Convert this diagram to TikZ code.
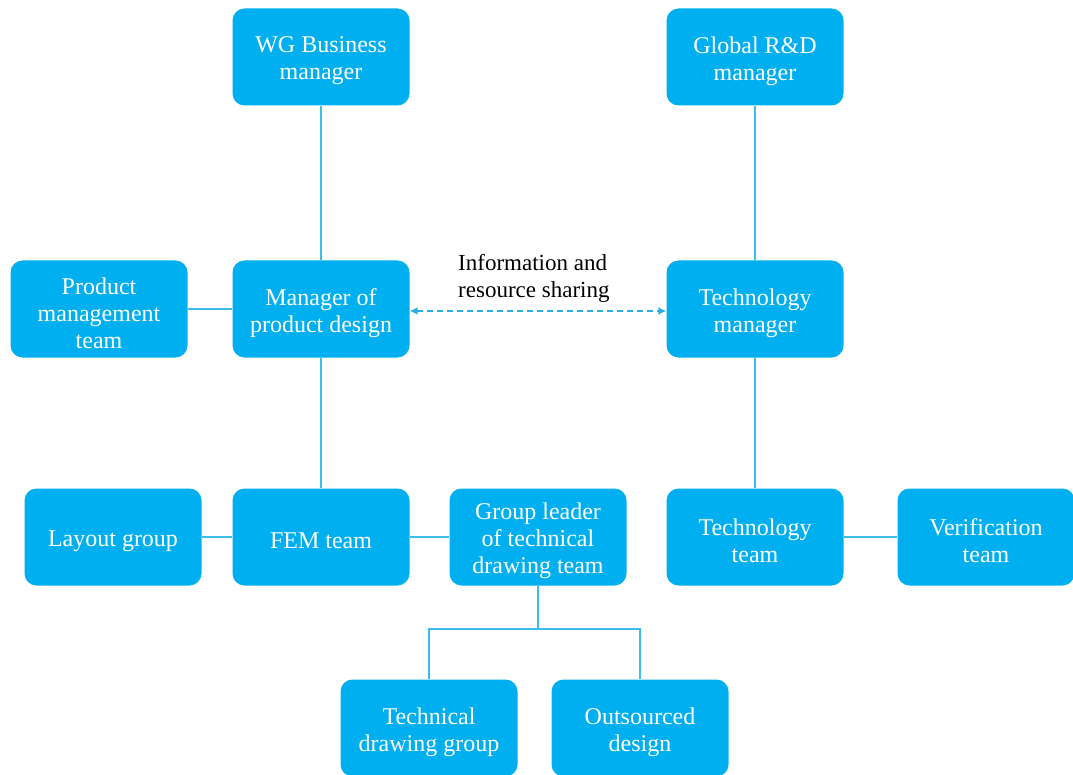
\documentclass[tikz,border=0pt]{standalone}
\usepackage{fontspec}
\setmainfont{Liberation Serif}
\usetikzlibrary{arrows.meta}
\definecolor{boxfill}{HTML}{00AFEF}
\definecolor{linkc}{HTML}{3DBDEE}
\definecolor{dashc}{HTML}{2AAEE6}
\tikzset{
  boxtext/.style={text=white, align=center, inner sep=0pt, yshift=-4pt,
    font=\fontsize{24}{27}\selectfont},
  unit/.style={rounded corners=12pt, fill=boxfill, draw=none,
    minimum width=177pt, minimum height=97pt, inner sep=0pt,
    label={[boxtext]center:{#1}}},
  link/.style={draw=linkc, line width=1.8pt},
  share/.style={draw=dashc, line width=2pt, dash pattern=on 6pt off 4pt,
    {Latex[length=8pt,width=8pt]}-{Latex[length=8pt,width=8pt]}},
}
\begin{document}
\begin{tikzpicture}[x=1pt,y=-1pt]
\useasboundingbox (0,0) rectangle (1073,775);

% upper management
\node[unit={WG Business\\manager}] (wg)  at (321,57) {};
\node[unit={Global R\&D\\manager}] (grd) at (755,57) {};

% middle tier
\node[unit={Product\\management\\team}] (pmt) at (99,309)  {};
\node[unit={Manager of\\product design}] (mpd) at (321,309) {};
\node[unit={Technology\\manager}] (tm)  at (755,309) {};

% teams
\node[unit={Layout group}] (lg)  at (113,537) {};
\node[unit={FEM team}] (fem) at (321,537) {};
\node[unit={Group leader\\of technical\\drawing team}] (gl) at (538,537) {};
\node[unit={Technology\\team}] (tt)  at (755,537) {};
\node[unit={Verification\\team}] (vt)  at (986,537) {};

% drawing groups
\node[unit={Technical\\drawing group}] (tdg) at (429,728) {};
\node[unit={Outsourced\\design}] (od)  at (640,728) {};

\coordinate (br) at (538,629);

% reporting lines
\draw[link] (wg.south) -- (mpd.north);
\draw[link] (grd.south) -- (tm.north);
\draw[link] (pmt.east) -- (mpd.west);
\draw[link] (mpd.south) -- (fem.north);
\draw[link] (lg.east) -- (fem.west);
\draw[link] (fem.east) -- (gl.west);
\draw[link] (tm.south) -- (tt.north);
\draw[link] (tt.east) -- (vt.west);
\draw[link] (gl.south) -- (br);
\draw[link] (tdg.north) |- (br) -| (od.north);

% cooperation between the two branches
\draw[share] ([yshift=-2pt]mpd.east) -- ([yshift=-2pt]tm.west);
\node[align=left, font=\fontsize{23}{27}\selectfont, anchor=north west, inner sep=0pt]
  (info) at (458,254) {Information and\\resource sharing};
\end{tikzpicture}
\end{document}
